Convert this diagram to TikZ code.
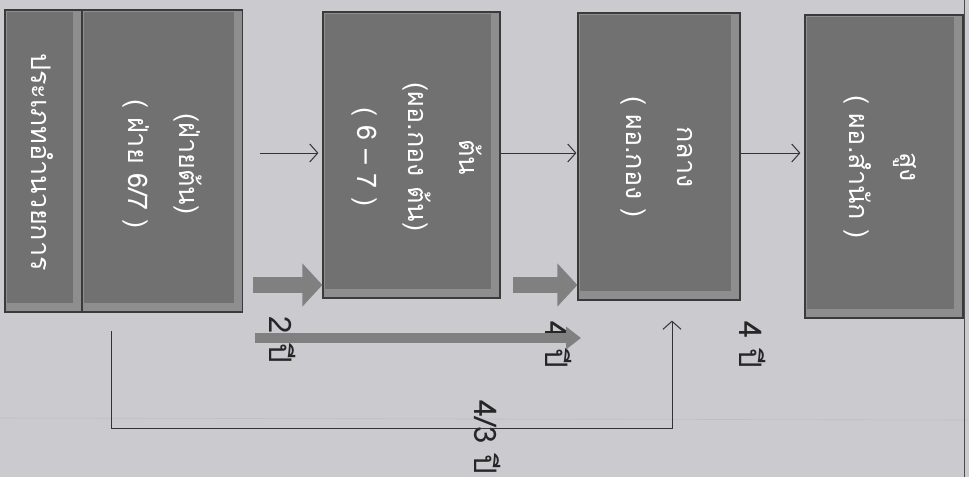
\documentclass[tikz,border=0pt]{standalone}
\usepackage{fontspec}
\newfontfamily\thaifont[Script=Thai]{Loma}
\usetikzlibrary{arrows.meta,calc}
\definecolor{bgc}{HTML}{CBCBCF}
\definecolor{boxfill}{HTML}{717171}
\definecolor{bevel}{HTML}{8E8E8E}
\definecolor{boxline}{HTML}{3A3A3A}
\definecolor{arrowgray}{HTML}{808080}
\tikzset{
  x=1pt, y=-1pt,
  bevelbox/.style={draw=boxline, line width=1.2pt, fill=bevel, inner sep=0pt,
    path picture={\fill[boxfill] ([xshift=1.5pt,yshift=-1.5pt]path picture bounding box.north west)
      rectangle ([xshift=-9pt,yshift=9pt]path picture bounding box.south east);}},
  boxtext/.style={rotate=-90, text=white, align=center, inner sep=0pt,
    font=\thaifont\fontsize{27}{51}\selectfont},
  lbl/.style={rotate=-90, text=black!85, inner sep=0pt, font=\thaifont\fontsize{31}{34}\selectfont},
  thinarrow/.style={draw=black!80, line width=1pt, -{Straight Barb[length=8pt,width=18pt,line width=1pt]}},
  blockarrow/.style={draw=arrowgray, line width=16pt, -{Triangle[length=20pt,width=42pt]}},
  longarrow/.style={draw=arrowgray, line width=10pt, -{Triangle[length=15pt,width=22pt]}}
}
\begin{document}
\begin{tikzpicture}
\useasboundingbox (0,0) rectangle (969,477);
\fill[bgc] (0,0) rectangle (969,477);
% scan artifacts
\draw[black!25, line width=0.6pt] (0,418) -- (969,420);
\draw[black!70, line width=1pt] (964,0) -- (964,477);

% boxes
\node[bevelbox, minimum width=77pt, minimum height=302pt] (side) at (43.5,161) {};
\node[bevelbox, minimum width=160pt, minimum height=302pt] (b1) at (162.5,161) {};
\node[bevelbox, minimum width=177pt, minimum height=286pt] (b2) at (411.5,155) {};
\node[bevelbox, minimum width=162pt, minimum height=287pt] (b3) at (659,156.5) {};
\node[bevelbox, minimum width=158pt, minimum height=303pt] (b4) at (884,166.5) {};

% texts
\node[boxtext] (tside) at (42,162) {ประเภทอำนวยการ};
\node[boxtext] (t1) at (162,164) {(ฝ่ายต้น)\\( ฝ่าย 6/7 )};
\node[boxtext] (t2) at (417,157) {ต้น\\(ผอ.กอง ต้น)\\( 6 – 7 )};
\node[boxtext] (t3) at (657,157) {กลาง\\( ผอ.กอง )};
\node[boxtext] (t4) at (880,167) {สูง\\( ผอ.สำนัก )};

% labels
\node[lbl] (l2) at (283,340) {2 ปี};
\node[lbl] (l4a) at (559,345) {4 ปี};
\node[lbl] (l4b) at (753,345) {4 ปี};
\node[lbl] (l43) at (488,437) {4/3 ปี};

% thin arrows
\coordinate (a0) at (260,153);
\draw[thinarrow, shorten >=4pt] (a0) -- (b2.west |- a0);
\draw[thinarrow, shorten >=1pt] (b2.east |- a0) -- (b3.west |- a0);
\draw[thinarrow, shorten >=4pt] (b3.east |- a0) -- (b4.west |- a0);

% block arrows
\coordinate (ba1) at (253,285);
\coordinate (ba2) at (513,285);
\draw[blockarrow] (ba1) -- (b2.west |- ba1);
\draw[blockarrow] (ba2) -- (b3.west |- ba2);

% long arrow
\coordinate (la1) at (255,338);
\coordinate (la2) at (581,338);
\draw[longarrow] (la1) -- (la2);

% bracket connector
\coordinate (br1) at (111,331);
\coordinate (br2) at (672,428);
\draw[thinarrow]
  (br1) |- (br2) -- ([yshift=-20pt]b3.south -| br2);
\end{tikzpicture}
\end{document}
